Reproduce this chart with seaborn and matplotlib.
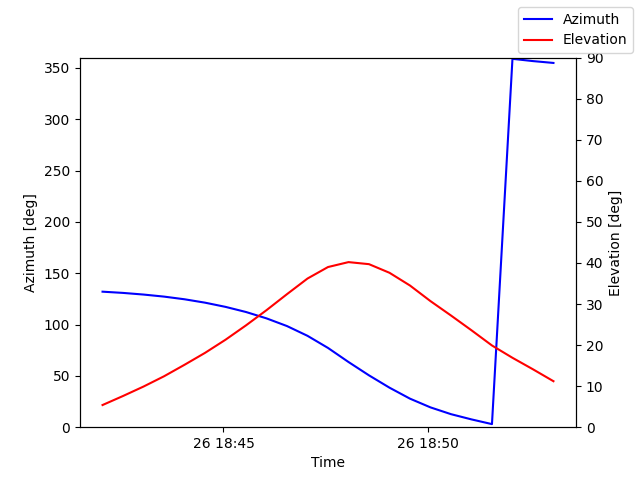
import matplotlib
matplotlib.use("Agg")
import matplotlib.pyplot as plt
import matplotlib.dates as mdates
import seaborn as sns
import pandas as pd

start = "2024-01-26 18:42:03"
n_points = 23
azimuth = [132.0, 130.8, 129.2, 127.2, 124.6, 121.3, 117.2, 112.2, 106.0, 98.5,
           89.0, 77.2, 63.5, 50.5, 38.5, 27.8, 19.3, 12.7, 7.6, 3.0,
           358.8, 356.6, 354.8]
elevation = [5.4, 7.6, 9.9, 12.4, 15.2, 18.1, 21.3, 24.8, 28.5, 32.4,
             36.2, 39.0, 40.2, 39.7, 37.6, 34.5, 30.7, 27.2, 23.6, 19.9,
             16.9, 14.1, 11.2]

times = pd.date_range(start=start, periods=n_points, freq="30s")
df = pd.DataFrame({"Time": times, "Azimuth": azimuth, "Elevation": elevation})

fig, ax = plt.subplots(figsize=(6.4, 4.8), dpi=100)
sns.lineplot(data=df, x="Time", y="Azimuth", ax=ax, color="blue", label="Azimuth", legend=False)
ax.set_ylim(0, 360)
ax.set_ylabel("Azimuth [deg]")
ax.set_xlabel("Time")

ax2 = ax.twinx()
sns.lineplot(data=df, x="Time", y="Elevation", ax=ax2, color="red", label="Elevation", legend=False)
ax2.set_ylim(0, 90)
ax2.set_ylabel("Elevation [deg]")

ax.xaxis.set_major_locator(mdates.MinuteLocator(byminute=range(0, 60, 5)))
ax.xaxis.set_major_formatter(mdates.DateFormatter("%d %H:%M"))

fig.legend()
fig.savefig("out.png")
